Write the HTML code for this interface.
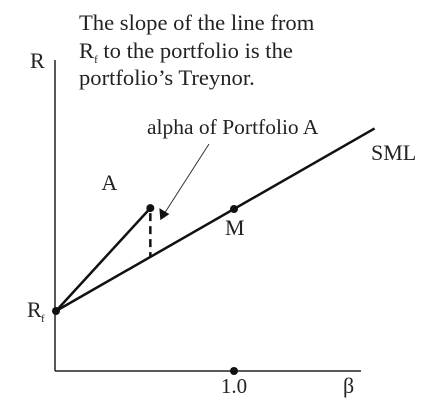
<!DOCTYPE html>
<html><head><meta charset="utf-8"><style>
html,body{margin:0;padding:0;background:#fff;width:426px;height:415px;overflow:hidden}
text{font-family:"Liberation Serif",serif;fill:#222}
</style></head><body>
<svg id="chart" width="426" height="415" viewBox="0 0 426 415">
<g font-size="22.6">
<text x="79" y="30">The slope of the line from</text>
<text x="79" y="58">R<tspan font-size="11" dy="5">f</tspan><tspan dy="-5"> to the portfolio is the</tspan></text>
<text x="79" y="85">portfolio’s Treynor.</text>
</g>
<text x="30" y="68" font-size="22">R</text>
<text x="343" y="393" font-size="22">β</text>
<text x="147" y="134" font-size="21.5">alpha of Portfolio A</text>
<g id="marks"></g>
</svg>
<script>
const betaValues=[0,0.53,1.0,1.79];
const rf=2.0;
const marketReturn=5.4;
const portfolioBeta=0.53;
const portfolioReturn=5.43;
const xTickLabels=["1.0"];
const xTickValues=[1.0];
const X=b=>56+b*178;
const Y=r=>371-r*30;
const ns="http://www.w3.org/2000/svg";
const g=document.getElementById('marks');
function mk(tag,attrs){const e=document.createElementNS(ns,tag);for(const k in attrs)e.setAttribute(k,attrs[k]);g.appendChild(e);return e;}
const sml=r=>rf+(marketReturn-rf)*r;
let e;
e=mk('line',{x1:55,y1:60,x2:55,y2:371,stroke:'#222','stroke-width':1.5});


e=mk('line',{x1:55,y1:371,x2:361,y2:371,stroke:'#222','stroke-width':1.5});


const bEnd=betaValues[betaValues.length-1];
e=mk('line',{x1:X(0),y1:Y(rf),x2:X(bEnd),y2:Y(sml(bEnd)),stroke:'#111','stroke-width':2.5});


e=mk('line',{x1:X(0),y1:Y(rf),x2:X(portfolioBeta),y2:Y(portfolioReturn),stroke:'#111','stroke-width':2.5});


e=mk('line',{x1:X(portfolioBeta),y1:Y(portfolioReturn)+5,x2:X(portfolioBeta),y2:Y(sml(portfolioBeta)),stroke:'#111','stroke-width':2.5,'stroke-dasharray':'8,5'});


const ax=X(portfolioBeta)+10, ay=Y(portfolioReturn)+12;
e=mk('line',{x1:209,y1:144,x2:ax+3,y2:ay-5,stroke:'#333','stroke-width':1});


e=mk('polygon',{points:`${ax},${ay} ${ax-1},${ay-12} ${ax+9},${ay-6}`,fill:'#111'});


e=mk('circle',{cx:X(0),cy:Y(rf),r:4,fill:'#111'});


e=mk('circle',{cx:X(portfolioBeta),cy:Y(portfolioReturn),r:4,fill:'#111'});


e=mk('circle',{cx:X(1),cy:Y(marketReturn),r:4,fill:'#111'});


xTickValues.forEach((v,i)=>{
 let c=mk('circle',{cx:X(v),cy:371,r:4,fill:'#111'});
 
 
 let t=mk('text',{x:X(v),y:393,'font-size':21,'text-anchor':'middle'});
 t.textContent=xTickLabels[i];
 
 
});
e=mk('text',{x:371,y:160,'font-size':22});e.textContent='SML';


e=mk('text',{x:X(portfolioBeta)-49,y:190,'font-size':22});e.textContent='A';


e=mk('text',{x:X(1)-9,y:Y(marketReturn)+26,'font-size':22});e.textContent='M';


e=mk('text',{x:27,y:Y(rf)+6,'font-size':22});e.textContent='R';


e=mk('text',{x:41,y:Y(rf)+11,'font-size':11});e.textContent='f';


</script>
</body></html>
